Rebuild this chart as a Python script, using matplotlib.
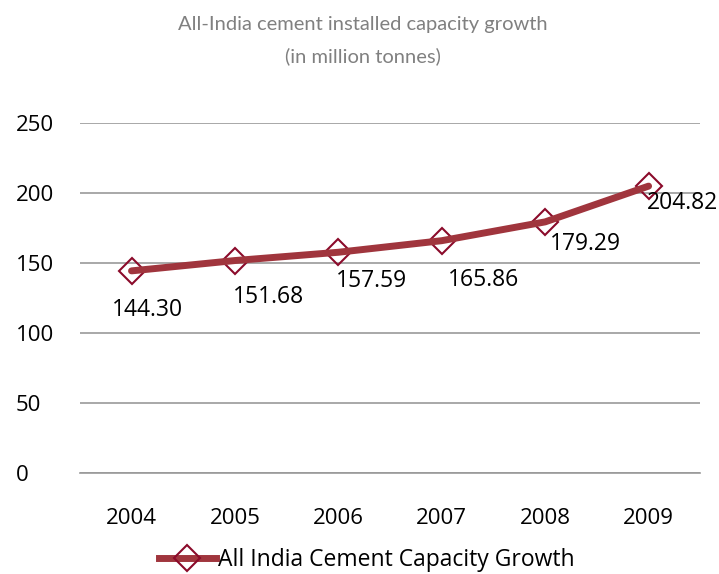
import matplotlib
matplotlib.use("Agg")
import matplotlib.pyplot as plt
from matplotlib.lines import Line2D

years = ["2004", "2005", "2006", "2007", "2008", "2009"]
capacity = [144.30, 151.68, 157.59, 165.86, 179.29, 204.82]
labels = ["144.30", "151.68", "157.59", "165.86", "179.29", "204.82"]
series_name = "All India Cement Capacity Growth"
title = "All-India cement installed capacity growth\n(in million tonnes)"

label_offsets = [(11.5, -28), (24, -26.6), (24, -21), (30, -28), (29, -16), (24.5, -12)]

plt.rcParams['font.family'] = ['Open Sans', 'DejaVu Sans']

fig = plt.figure(figsize=(7.19, 5.74), dpi=100)
ax = fig.add_axes([0.111, 0.176, 0.863, 0.610])

x = list(range(len(years)))
line_color = "#A0353D"
marker_color = "#8B0A2A"
ax.plot(x, capacity, ls="none", marker="D", ms=13, mfc="none", mec=marker_color, mew=1.5, zorder=3)
ax.plot(x, capacity, color=line_color, lw=5, solid_capstyle="round", zorder=4)

for xi, v, lab, off in zip(x, capacity, labels, label_offsets):
    ax.annotate(lab, (xi, v), xytext=off, textcoords="offset points",
                ha="center", va="center", fontsize=16.5, color="black",
                annotation_clip=False)

ax.set_xlim(-0.5, 5.5)
ax.set_ylim(0, 250)
ax.set_yticks([0, 50, 100, 150, 200, 250])
ax.set_xticks(x)
ax.set_xticklabels(years)
ax.tick_params(axis="both", length=0, labelsize=16, colors="black")
ax.tick_params(axis="x", pad=25)
ax.tick_params(axis="y", pad=46)
for lab in ax.get_yticklabels():
    lab.set_horizontalalignment("left")
ax.grid(axis="y", color="#999999", lw=1.2)
ax.set_axisbelow(True)
for s in ["top", "right", "left"]:
    ax.spines[s].set_visible(False)
ax.spines["bottom"].set_color("#999999")
ax.spines["bottom"].set_linewidth(1.2)

fig.text(0.505, 0.972, title, ha="center", va="top", fontsize=14.5, color="#808080",
         family=["Lato", "DejaVu Sans"], linespacing=1.95)

handle = Line2D([0], [0], color=line_color, lw=5, marker="D", ms=13, mfc="none", mec=marker_color, mew=1.5)
fig.legend([handle], [series_name], loc="center", bbox_to_anchor=(0.51, 0.025), frameon=False,
           fontsize=16.5, handlelength=2.5, handletextpad=0.1, borderaxespad=0, borderpad=0)

fig.savefig("out.png", dpi=100)
